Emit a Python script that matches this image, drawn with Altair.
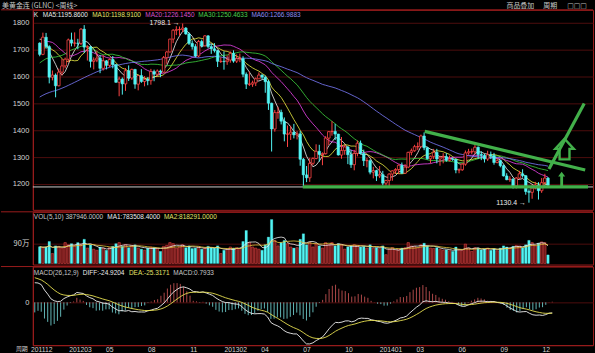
import altair as alt
import pandas as pd
import numpy as np

# ---------------- data (weekly, 2011-11-21 .. 2014-12-15) ----------------
# closes of the 60 weeks before the first visible bar (only used to warm up MA / MACD)
prior_closes = [1317, 1346, 1372, 1325, 1359, 1394, 1366, 1352, 1363, 1406, 1385, 1379, 1380, 1421,
                1369, 1361, 1342, 1340, 1349, 1360, 1388, 1409, 1429, 1421, 1419, 1428, 1428, 1474,
                1486, 1505, 1556, 1492, 1492, 1510, 1536, 1542, 1529, 1539, 1500, 1483, 1541, 1592,
                1601, 1628, 1663, 1742, 1852, 1829, 1883, 1856, 1813, 1637, 1620, 1635, 1682, 1642,
                1747, 1754, 1788, 1725]

opens = [1725, 1683, 1747, 1712, 1598, 1606, 1566, 1617, 1640, 1665,
         1737, 1725, 1725, 1724, 1777, 1710, 1711, 1657, 1662, 1669,
         1631, 1659, 1642, 1664, 1645, 1579, 1591, 1573, 1622, 1595,
         1627, 1572, 1604, 1582, 1590, 1585, 1619, 1609, 1621, 1617,
         1671, 1692, 1740, 1773, 1775, 1776, 1781, 1759, 1724, 1712,
         1677, 1731, 1715, 1752, 1712, 1704, 1697, 1657, 1657, 1656,
         1662, 1687, 1658, 1667, 1667, 1609, 1572, 1572, 1577, 1592,
         1606, 1598, 1581, 1501, 1405, 1466, 1467, 1434, 1386, 1386,
         1393, 1383, 1387, 1292, 1234, 1223, 1277, 1295, 1322, 1310,
         1313, 1371, 1395, 1396, 1386, 1308, 1325, 1338, 1309, 1272,
         1314, 1352, 1314, 1287, 1287, 1244, 1250, 1230, 1235, 1203,
         1213, 1237, 1249, 1254, 1270, 1240, 1263, 1318, 1324, 1339,
         1339, 1379, 1335, 1294, 1303, 1318, 1293, 1300, 1302, 1288,
         1293, 1292, 1252, 1253, 1274, 1316, 1320, 1320, 1337, 1310,
         1307, 1293, 1309, 1306, 1280, 1287, 1268, 1230, 1216, 1218,
         1192, 1222, 1238, 1231, 1172, 1169, 1185, 1196, 1175, 1205,
         1222]
highs = [1728, 1764, 1763, 1717, 1623, 1612, 1630, 1666, 1671, 1742,
         1764, 1765, 1741, 1781, 1792, 1717, 1715, 1672, 1696, 1681,
         1680, 1662, 1668, 1677, 1647, 1600, 1597, 1632, 1642, 1630,
         1629, 1605, 1628, 1602, 1598, 1629, 1626, 1627, 1626, 1677,
         1695, 1741, 1777, 1788, 1787, 1798.1, 1785, 1765, 1735, 1721,
         1737, 1738, 1755, 1755, 1722, 1725, 1699, 1672, 1694, 1679,
         1694, 1698, 1683, 1686, 1676, 1616, 1619, 1585, 1597, 1616,
         1609, 1604, 1588, 1503, 1476, 1488, 1477, 1448, 1418, 1417,
         1424, 1397, 1398, 1297, 1267, 1297, 1299, 1348, 1346, 1318,
         1378, 1397, 1434, 1424, 1387, 1375, 1347, 1342, 1327, 1327,
         1362, 1362, 1328, 1297, 1292, 1264, 1253, 1267, 1249, 1216,
         1240, 1251, 1259, 1273, 1280, 1274, 1320, 1332, 1346, 1355,
         1384, 1392, 1339, 1306, 1331, 1331, 1305, 1315, 1315, 1306,
         1299, 1294, 1258, 1278, 1325, 1331, 1332, 1345, 1340, 1322,
         1312, 1324, 1321, 1316, 1296, 1290, 1272, 1240, 1229, 1222,
         1226, 1249, 1255, 1233, 1180, 1197, 1208, 1207, 1222, 1238,
         1226]
lows = [1676, 1680, 1704, 1575, 1586, 1523, 1564, 1605, 1631, 1653,
        1713, 1712, 1702, 1718, 1688, 1660, 1634, 1627, 1654, 1613,
        1623, 1627, 1635, 1631, 1577, 1527, 1533, 1547, 1584, 1588,
        1555, 1549, 1577, 1564, 1568, 1570, 1583, 1602, 1598, 1615,
        1648, 1690, 1725, 1755, 1752, 1766, 1756, 1718, 1701, 1672,
        1672, 1709, 1712, 1705, 1685, 1690, 1636, 1651, 1626, 1644,
        1652, 1652, 1651, 1654, 1598, 1554, 1565, 1562, 1565, 1591,
        1591, 1540, 1476, 1321, 1395, 1443, 1422, 1359, 1338, 1364,
        1370, 1366, 1268, 1192, 1207, 1208, 1270, 1292, 1283, 1270,
        1310, 1345, 1380, 1364, 1306, 1294, 1309, 1274, 1260, 1251,
        1303, 1310, 1267, 1262, 1236, 1221, 1211, 1222, 1195, 1194,
        1188, 1212, 1237, 1237, 1238, 1239, 1259, 1307, 1320, 1327,
        1336, 1326, 1291, 1277, 1293, 1277, 1268, 1277, 1283, 1284,
        1286, 1240, 1240, 1249, 1268, 1309, 1311, 1311, 1293, 1289,
        1280, 1286, 1293, 1272, 1277, 1262, 1228, 1214, 1208, 1183,
        1183, 1219, 1224, 1160, 1130.4, 1145, 1180, 1142, 1167, 1200,
        1190]
closes = [1683, 1747, 1712, 1598, 1606, 1566, 1617, 1640, 1665, 1737,
          1725, 1725, 1724, 1777, 1710, 1711, 1657, 1662, 1669, 1631,
          1659, 1642, 1664, 1645, 1579, 1591, 1573, 1622, 1595, 1627,
          1572, 1604, 1582, 1590, 1585, 1619, 1609, 1621, 1617, 1671,
          1692, 1740, 1773, 1775, 1776, 1781, 1759, 1724, 1712, 1677,
          1731, 1715, 1752, 1712, 1704, 1697, 1657, 1657, 1656, 1662,
          1687, 1658, 1667, 1667, 1609, 1572, 1572, 1577, 1592, 1606,
          1598, 1581, 1501, 1405, 1466, 1467, 1434, 1386, 1386, 1393,
          1383, 1387, 1292, 1234, 1223, 1277, 1295, 1322, 1310, 1313,
          1371, 1395, 1396, 1386, 1308, 1325, 1338, 1309, 1272, 1314,
          1352, 1314, 1287, 1287, 1244, 1250, 1230, 1235, 1203, 1213,
          1237, 1249, 1254, 1270, 1240, 1263, 1318, 1324, 1339, 1339,
          1379, 1335, 1294, 1303, 1318, 1293, 1300, 1302, 1288, 1293,
          1292, 1252, 1253, 1274, 1316, 1320, 1320, 1337, 1310, 1307,
          1293, 1309, 1306, 1280, 1287, 1268, 1230, 1216, 1218, 1192,
          1222, 1238, 1231, 1172, 1169, 1185, 1196, 1175, 1205, 1222,
          1195]
# weekly volume, in 万
volumes = [76, 72, 75, 100, 45, 80, 78, 70, 95, 85,
           90, 80, 95, 88, 110, 70, 85, 65, 60, 75,
           70, 60, 72, 78, 90, 95, 78, 85, 72, 80,
           85, 70, 65, 60, 70, 75, 72, 68, 55, 78,
           82, 95, 90, 70, 75, 85, 72, 80, 68, 70,
           75, 65, 70, 78, 72, 70, 80, 45, 60, 65,
           75, 70, 72, 68, 100, 150, 95, 75, 70, 65,
           60, 85, 120, 200, 105, 80, 95, 105, 90, 75,
           70, 72, 110, 135, 85, 95, 75, 90, 80, 70,
           95, 85, 95, 80, 90, 85, 65, 75, 80, 85,
           82, 75, 78, 70, 85, 70, 72, 68, 80, 40,
           65, 72, 60, 65, 70, 72, 95, 80, 78, 70,
           85, 92, 80, 70, 68, 72, 65, 60, 62, 58,
           55, 75, 62, 60, 88, 70, 55, 72, 70, 62,
           66, 70, 60, 68, 58, 70, 80, 75, 70, 78,
           82, 80, 72, 85, 105, 95, 80, 92, 98, 95,
           39]

price_ticks = [1200, 1300, 1400, 1500, 1600, 1700, 1800]
month_idx = [2, 14, 23, 36, 49, 62, 71, 84, 97, 110, 119, 132, 145, 158]
month_labels = ['201112', '201203', '05', '08', '11', '201302', '04', '07', '10',
                '201401', '03', '06', '09', '12']

extreme_idx = [45, 154]
extreme_val = [1798.1, 1130.4]
extreme_txt = ['1798.1 \u2192', '1130.4 \u2192']

base_level = [1189]
seg_name = ['support', 'support', 'trend', 'trend', 'breakout', 'breakout']
seg_x = [82.8, 172.6, 121.2, 171.7, 160.3, 171.4]
seg_y = [1189, 1189, 1396, 1252, 1256, 1500]
big_arrow_at = [165.2, 1330]
small_arrow_at = [164.3, 1219]

ma_names = ['MA5', 'MA10', 'MA20', 'MA30', 'MA60']
ma_windows = [5, 10, 20, 30, 60]
ma_legend = ['MA5:1195.8600', 'MA10:1198.9100', 'MA20:1226.1450', 'MA30:1250.4633', 'MA60:1266.9883']
vol_legend = ['VOL(5,10) 387946.0000', 'MA1:783508.4000', 'MA2:818291.0000']
macd_legend = ['MACD(26,12,9)', 'DIFF:-24.9204', 'DEA:-25.3171', 'MACD:0.7933']

# ---------------- style ----------------
RED = '#ff4444'
CYAN = '#52f4f4'
GREEN = '#42b04a'
GRID = '#4e0d0d'
BORDER = '#9a1c1c'
TXT = '#d4d4d4'
FONT = 'Liberation Sans'
CJK = 'Noto Sans CJK SC'
LFS = 6.5  # legend font size
ma_colors = ['#f2f2f2', '#eeee44', '#ee44ee', '#3ed43e', '#7c7cff']
ma_text_colors = ['#e8e8e8', '#e4e46a', '#d850c8', '#4cd04c', '#8c8cf0']

W, H_P, H_V, H_M = 563, 201, 53, 79

# ---------------- frames ----------------
n = len(closes)
k = len(prior_closes)
df = pd.DataFrame({'idx': np.arange(n), 'open': opens, 'high': highs, 'low': lows,
                   'close': closes, 'vol': volumes})
df['blo'] = df[['open', 'close']].min(axis=1)
df['bhi'] = df[['open', 'close']].max(axis=1)
df['zero'] = 0.0

allc = pd.Series(prior_closes + closes, dtype=float)
e12 = allc.ewm(span=12, adjust=False).mean()
e26 = allc.ewm(span=26, adjust=False).mean()
dif = e12 - e26
dea = dif.ewm(span=9, adjust=False).mean()
df['dif'] = dif.values[k:]
df['dea'] = dea.values[k:]
df['macd'] = 2 * (df['dif'] - df['dea'])

ma_df = pd.DataFrame({'idx': np.arange(-k, n), 'close': prior_closes + closes})

lo = float(min(df['dif'].min(), df['dea'].min(), df['macd'].min()))
hi = float(max(df['dif'].max(), df['dea'].max(), df['macd'].max()))
s = max(-lo / 43.0, hi / 36.0) * 1.03
m_dom = [-43 * s, 36 * s]

xs = alt.Scale(domain=[-0.6, 172.6], nice=False, zero=False)
X = alt.X('idx:Q', scale=xs, axis=None)
py = alt.Scale(domain=[1103.7, 1849], nice=False, zero=False)
vy = alt.Scale(domain=[-5, 235], nice=False, zero=False)
my = alt.Scale(domain=m_dom, nice=False, zero=False)


def yaxis(values, expr=None, font=FONT):
    kw = dict(values=values, grid=True, ticks=False, labelPadding=4, minExtent=32,
              maxExtent=32, title=None, labelFont=font, labelFontSize=7.5, format='d',
              labelColor=TXT, domainColor=BORDER, gridColor=GRID)
    if expr:
        kw['labelExpr'] = expr
    return alt.Axis(**kw)


p_ax = yaxis(price_ticks)
v_ax = yaxis([90], "'90万'", CJK)
m_ax = yaxis([0])


def label(text, px, pyv, color, size=LFS, font=FONT, align='left', baseline='middle'):
    return alt.Chart(alt.Data(values=[{}])).mark_text(
        text=text, align=align, baseline=baseline, fontSize=size, color=color, font=font
    ).encode(x=alt.value(px), y=alt.value(pyv))


def text_w(t, fs):
    w = 0.0
    for ch in t:
        if ch.isdigit():
            w += 0.556
        elif ch in '.,: I':
            w += 0.278
        elif ch in '()-':
            w += 0.333
        elif ch == 'M':
            w += 0.833
        elif ch in 'CDO':
            w += 0.74
        else:
            w += 0.64
    return w * fs


def legend_row(items, colors, x0, yv, gap=4):
    out, x = [], x0
    for t, c in zip(items, colors):
        out.append(label(t, x, yv, c))
        x += text_w(t, LFS) + gap
    return out


def sep_rule():
    # full-width red separator at the top of a panel (covers the axis gutter too)
    return alt.Chart(alt.Data(values=[{}])).mark_rule(color=BORDER, strokeWidth=1).encode(
        x=alt.value(-32), x2=alt.value(W), y=alt.value(0))


# ---------------- price panel ----------------
ma_base = alt.Chart(ma_df)
for nm, w in zip(ma_names, ma_windows):
    ma_base = ma_base.transform_window(**{nm: 'mean(close)'}, frame=[-(w - 1), 0],
                                       sort=[alt.SortField('idx')])
ma_base = ma_base.transform_filter('datum.idx >= 0')
ma_layers = [ma_base.mark_line(color=c, strokeWidth=0.8).encode(
    x=X, y=alt.Y(f'{nm}:Q', scale=py, axis=p_ax)) for nm, c in zip(ma_names, ma_colors)]

base_line = alt.Chart(pd.DataFrame({'lv': base_level})).mark_rule(
    color='#cccccc', strokeWidth=1).encode(y=alt.Y('lv:Q', scale=py, axis=p_ax))

up = alt.Chart(df).transform_filter('datum.close >= datum.open')
dn = alt.Chart(df).transform_filter('datum.close < datum.open')
up_wick = up.mark_rule(color=RED, strokeWidth=1).encode(
    x=X, y=alt.Y('low:Q', scale=py, axis=p_ax), y2='high:Q')
dn_wick = dn.mark_rule(color=CYAN, strokeWidth=1).encode(
    x=X, y=alt.Y('low:Q', scale=py, axis=p_ax), y2='high:Q')
up_body = up.mark_bar(size=2.6, fill='#000000', stroke=RED, strokeWidth=0.8).encode(
    x=X, y=alt.Y('blo:Q', scale=py, axis=p_ax), y2='bhi:Q')
dn_body = dn.mark_bar(size=2.6, fill=CYAN, stroke=CYAN, strokeWidth=0.5).encode(
    x=X, y=alt.Y('blo:Q', scale=py, axis=p_ax), y2='bhi:Q')

seg_df = pd.DataFrame({'seg': seg_name, 'idx': seg_x, 'p': seg_y})
segs = alt.Chart(seg_df).mark_line(color=GREEN, strokeWidth=3.2).encode(
    x=X, y=alt.Y('p:Q', scale=py, axis=p_ax), detail='seg:N')

HOLLOW = 'M0,-1 L0.9,-0.02 L0.48,-0.02 L0.48,1 L-0.48,1 L-0.48,-0.02 L-0.9,-0.02 Z'
SMALL = 'M0,-1 L0.5,-0.35 L0.2,-0.35 L0.2,1 L-0.2,1 L-0.2,-0.35 L-0.5,-0.35 Z'
big_arrow = alt.Chart(pd.DataFrame({'idx': [big_arrow_at[0]], 'p': [big_arrow_at[1]]})).mark_point(
    shape=HOLLOW, filled=False, color=GREEN, strokeWidth=2.4, size=430, opacity=1).encode(
    x=X, y=alt.Y('p:Q', scale=py, axis=p_ax))
small_arrow = alt.Chart(pd.DataFrame({'idx': [small_arrow_at[0]], 'p': [small_arrow_at[1]]})).mark_point(
    shape=SMALL, filled=True, color=GREEN, size=200, opacity=1).encode(
    x=X, y=alt.Y('p:Q', scale=py, axis=p_ax))

ext = alt.Chart(pd.DataFrame({'idx': extreme_idx, 'p': extreme_val, 't': extreme_txt})).mark_text(
    align='right', baseline='middle', dx=-3, fontSize=7, color='#ececec', font=FONT).encode(
    x=X, y=alt.Y('p:Q', scale=py, axis=p_ax), text='t:N')

HY = -8
p_labels = [label('美黄金连 (GLNC) <周线>', -31, HY, '#c8c8c8', 7, CJK, baseline='top'),
            label('商品叠加', 476, HY, '#c8c8c8', 7, CJK, baseline='top'),
            label('周期', 513, HY, '#c8c8c8', 7, CJK, baseline='top'),
            label('\u25a1\u25a1\u25a1', 537, HY, '#b8b8b8', 7, 'DejaVu Sans', baseline='top'),
            label('K', 1, 5, '#e8e8e8')]
p_labels += legend_row(ma_legend, ma_text_colors, 10, 5)

price = alt.layer(*ma_layers, base_line, up_wick, dn_wick, up_body, dn_body, segs, big_arrow,
                  small_arrow, ext, sep_rule(), *p_labels).properties(width=W, height=H_P)

# ---------------- volume panel ----------------
vup = alt.Chart(df).transform_filter('datum.close >= datum.open').mark_bar(
    size=2.4, fill='#6a1818', stroke='#d84040', strokeWidth=0.6).encode(
    x=X, y=alt.Y('vol:Q', scale=vy, axis=v_ax), y2='zero:Q')
vdn = alt.Chart(df).transform_filter('datum.close < datum.open').mark_bar(
    size=2.4, fill=CYAN, stroke=CYAN, strokeWidth=0.3).encode(
    x=X, y=alt.Y('vol:Q', scale=vy, axis=v_ax), y2='zero:Q')
vma = alt.Chart(df).transform_window(m5='mean(vol)', frame=[-4, 0], sort=[alt.SortField('idx')]) \
    .transform_window(m10='mean(vol)', frame=[-9, 0], sort=[alt.SortField('idx')])
vma5 = vma.mark_line(color='#f0f0f0', strokeWidth=0.8).encode(x=X, y=alt.Y('m5:Q', scale=vy, axis=v_ax))
vma10 = vma.mark_line(color='#e8c840', strokeWidth=0.8).encode(x=X, y=alt.Y('m10:Q', scale=vy, axis=v_ax))
v_labels = legend_row(vol_legend, ['#c8c8c8', '#ececec', '#e4e46a'], 1, 5)
vol = alt.layer(vup, vdn, vma5, vma10, sep_rule(), *v_labels).properties(width=W, height=H_V)

# ---------------- MACD panel ----------------
XM = alt.X('idx:Q', scale=xs, axis=alt.Axis(
    values=month_idx,
    labelExpr='[' + ','.join(f"'{t}'" for t in month_labels) + '][indexof([' +
              ','.join(str(i) for i in month_idx) + '], datum.value)]',
    grid=False, ticks=False, labelFlush=False, labelOverlap=False,
    labelPadding=1, labelFontSize=6.8, labelColor=TXT, labelFont=FONT, domainColor=BORDER,
    title=None))
hpos = alt.Chart(df).transform_filter('datum.macd >= 0').mark_rule(color='#c05050', strokeWidth=0.9).encode(
    x=XM, y=alt.Y('macd:Q', scale=my, axis=m_ax), y2='zero:Q')
hneg = alt.Chart(df).transform_filter('datum.macd < 0').mark_rule(color='#6cc8c8', strokeWidth=0.9).encode(
    x=XM, y=alt.Y('macd:Q', scale=my, axis=m_ax), y2='zero:Q')
ldif = alt.Chart(df).mark_line(color='#f0f0f0', strokeWidth=0.9).encode(
    x=XM, y=alt.Y('dif:Q', scale=my, axis=m_ax))
ldea = alt.Chart(df).mark_line(color='#e8e050', strokeWidth=0.9).encode(
    x=XM, y=alt.Y('dea:Q', scale=my, axis=m_ax))
m_labels = legend_row(macd_legend, ['#c8c8c8', '#ececec', '#e4e46a', '#c8c8c8'], 1, 6)
m_labels.append(label('周期', -17, 80, '#c8c8c8', 6, CJK, baseline='top'))
macd = alt.layer(hpos, hneg, ldif, ldea, sep_rule(), *m_labels).properties(width=W, height=H_M)

chart = alt.vconcat(price, vol, macd, spacing=0).properties(
    padding=0, background='#000000'
).configure_view(stroke=BORDER, strokeWidth=1).configure_axis(
    domainColor=BORDER, gridColor=GRID, labelColor=TXT)

chart.save('out.html', embed_options={'renderer': 'svg', 'actions': False})
